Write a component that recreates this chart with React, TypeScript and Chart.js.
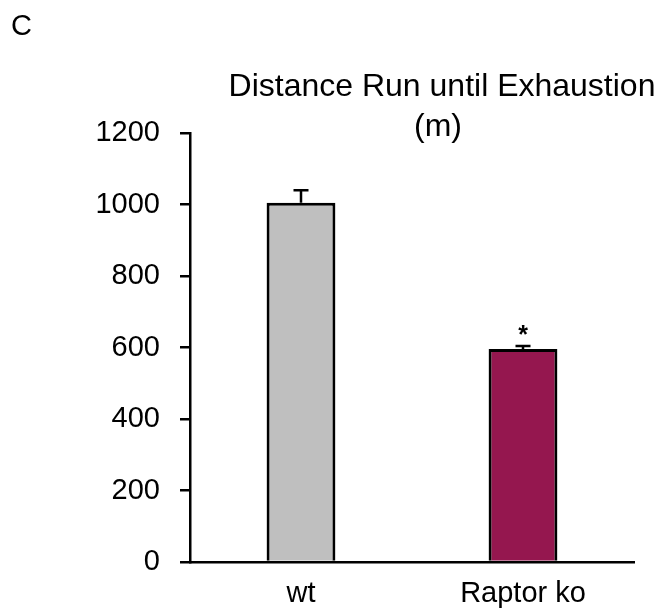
import React, { useEffect, useRef } from "react";
import { Chart, registerables } from "chart.js";

Chart.register(...registerables);

const categories = ["wt", "Raptor ko"];
const values = [1005, 596];
const errors = [35, 8];
const barColors = ["#BFBFBF", "#95174F"];
const significance = ["", "*"];
const yTicks = [0, 200, 400, 600, 800, 1000, 1200];
const titleLines = ["Distance Run until Exhaustion", "(m)"];
const panelLabel = "C";

const FONT = "'Liberation Sans', Arial, Helvetica, sans-serif";

export default function App() {
  const ref = useRef<HTMLCanvasElement | null>(null);

  useEffect(() => {
    document.body.style.margin = "0";
    const canvas = ref.current;
    if (!canvas) return;

    const overlay = {
      id: "overlay",
      afterDatasetsDraw(chart: any) {
        const ctx = chart.ctx;
        const meta = chart.getDatasetMeta(0);
        const yScale = chart.scales.y;
        ctx.save();
        ctx.strokeStyle = "#000";
        ctx.lineWidth = 2.5;
        meta.data.forEach((bar: any, i: number) => {
          const x = bar.x;
          const yTop = yScale.getPixelForValue(values[i]);
          const yErr = yScale.getPixelForValue(values[i] + errors[i]);
          ctx.beginPath();
          ctx.moveTo(x, yTop);
          ctx.lineTo(x, yErr);
          ctx.moveTo(x - 7.5, yErr);
          ctx.lineTo(x + 7.5, yErr);
          ctx.stroke();
          if (significance[i]) {
            ctx.fillStyle = "#000";
            ctx.font = `bold 25px ${FONT}`;
            ctx.textAlign = "center";
            ctx.textBaseline = "middle";
            ctx.fillText(significance[i], x, yErr - 10);
          }
        });
        ctx.restore();
      },
      afterDraw(chart: any) {
        const ctx = chart.ctx;
        ctx.save();
        ctx.fillStyle = "#000";
        ctx.textAlign = "center";
        ctx.textBaseline = "middle";
        ctx.font = `32px ${FONT}`;
        ctx.fillText(titleLines[0], 442, 87);
        ctx.fillText(titleLines[1], 438, 127);
        ctx.textAlign = "left";
        ctx.font = `29px ${FONT}`;
        ctx.fillText(panelLabel, 11, 27);
        ctx.restore();
      },
    };

    const chart = new Chart(canvas, {
      type: "bar",
      data: {
        labels: categories,
        datasets: [
          {
            data: values,
            backgroundColor: barColors,
            borderColor: "#000",
            borderWidth: 3,
            categoryPercentage: 1,
            barPercentage: 0.31,
          },
        ],
      },
      options: {
        responsive: false,
        animation: false,
        layout: { padding: { top: 133, right: 31, left: 0, bottom: 0 } },
        plugins: {
          legend: { display: false },
          tooltip: { enabled: false },
          title: { display: false },
        },
        scales: {
          x: {
            grid: { display: false },
            border: { display: true, color: "#000", width: 2.5 },
            ticks: {
              color: "#000",
              font: { family: FONT, size: 29 },
              padding: 7,
              maxRotation: 0,
            },
            afterFit(scale: any) {
              scale.height = 48;
            },
          },
          y: {
            min: 0,
            max: 1200,
            afterBuildTicks(scale: any) {
              scale.ticks = yTicks.map((v) => ({ value: v }));
            },
            grid: {
              display: true,
              drawOnChartArea: false,
              drawTicks: true,
              tickLength: 10,
              color: "#000",
              lineWidth: 2.5,
            },
            border: { display: true, color: "#000", width: 2.5 },
            ticks: {
              color: "#000",
              font: { family: FONT, size: 29 },
              padding: 20,
              callback: (v: any) => String(v),
            },
            afterFit(scale: any) {
              scale.width = 190;
            },
          },
        },
      },
      plugins: [overlay],
    });

    return () => chart.destroy();
  }, []);

  return (
    <div style={{ position: "absolute", left: 0, top: 0, width: 665, height: 610, background: "#fff" }}>
      <canvas ref={ref} width={665} height={610} />
    </div>
  );
}
